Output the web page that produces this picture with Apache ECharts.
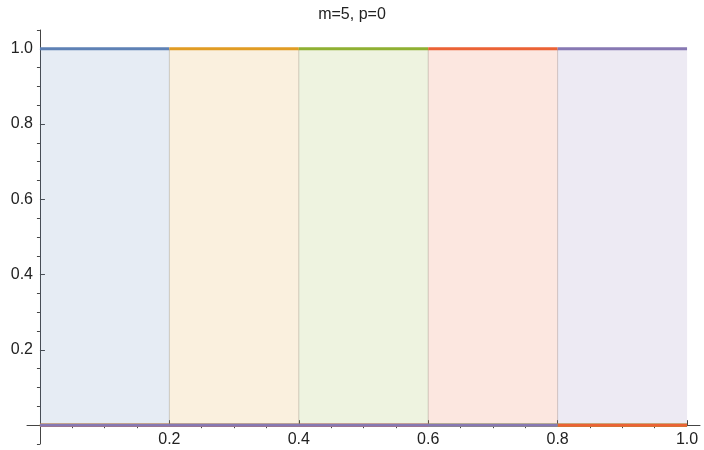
<!DOCTYPE html>
<html>
<head>
<meta charset="utf-8">
<script src="https://cdn.jsdelivr.net/npm/echarts@6/dist/echarts.min.js"></script>
<style>html,body{margin:0;padding:0;background:#fff}#c{width:704px;height:450px}</style>
</head>
<body>
<div id="c"></div>
<script>
// ---- data ----
const titleText = 'm=5, p=0';
const knots = [0, 0.2, 0.4, 0.6, 0.8, 1.0];
const basisNames = ['N0', 'N1', 'N2', 'N3', 'N4'];
const basisLevel = [1, 1, 1, 1, 1];
const xMajorTicks = [0.2, 0.4, 0.6, 0.8, 1.0];
const xMinorTicks = [0.05, 0.1, 0.15, 0.25, 0.3, 0.35, 0.45, 0.5, 0.55, 0.65, 0.7, 0.75, 0.85, 0.9, 0.95];
const yMajorTicks = [0.2, 0.4, 0.6, 0.8, 1.0];
const yMinorTicks = [-0.05, 0.05, 0.1, 0.15, 0.25, 0.3, 0.35, 0.45, 0.5, 0.55, 0.65, 0.7, 0.75, 0.85, 0.9, 0.95, 1.05];

const colors = ['#5E81B5', '#E19C24', '#8FB032', '#EB6235', '#8778B3'];
const fills = ['rgba(94,129,181,0.22)', 'rgba(225,156,36,0.22)', 'rgba(143,176,50,0.22)', 'rgba(235,98,53,0.22)', 'rgba(135,120,179,0.22)'];

const x0 = knots[0], x1 = knots[knots.length - 1];
function basisData(i) {
  const a = knots[i], b = knots[i + 1], v = basisLevel[i];
  const d = [];
  if (a > x0) { d.push([x0, 0], [a, 0], [a, '-']); }
  d.push([a, v], [b, v]);
  if (b < x1) { d.push([b, '-'], [b, 0], [x1, 0]); }
  return d;
}
const edgeData = [];
for (let k = 1; k < knots.length - 1; k++) {
  edgeData.push([knots[k], 0], [knots[k], 1], [knots[k], '-']);
}

const font = 'Liberation Sans, Arial, sans-serif';
const axisCol = '#444';
const series = [];
basisNames.forEach((n, i) => {
  series.push({
    name: n, type: 'line', data: basisData(i), showSymbol: false, symbol: 'none',
    connectNulls: false, animation: false,
    lineStyle: { color: colors[i], width: 3 },
    itemStyle: { color: colors[i] },
    areaStyle: { color: fills[i], origin: 0 },
    z: 2
  });
});
series.push({
  name: 'edges', type: 'line', data: edgeData, showSymbol: false, symbol: 'none',
  connectNulls: false, animation: false,
  lineStyle: { color: 'rgba(120,120,120,0.35)', width: 1 }, z: 1
});

const chart = echarts.init(document.getElementById('c'), null, { renderer: 'canvas' });
chart.setOption({
  animation: false,
  title: { text: titleText, left: 'center', top: 2, textStyle: { fontFamily: font, fontSize: 16, fontWeight: 'normal', color: '#222' } },
  grid: { left: 27, right: 4, top: 30, bottom: 6, containLabel: false, outerBoundsMode: 'none' },
  xAxis: [
    { type: 'value', min: -0.02, max: 1.02,
      axisLine: { show: true, onZero: true, lineStyle: { color: axisCol, width: 1 } },
      axisTick: { show: true, inside: true, length: 5, customValues: xMajorTicks, lineStyle: { color: axisCol } },
      axisLabel: { show: true, customValues: xMajorTicks, formatter: v => v.toFixed(1), margin: -12, fontFamily: font, fontSize: 16, color: '#222' },
      splitLine: { show: false } },
    { type: 'value', min: -0.02, max: 1.02,
      axisLine: { show: false, onZero: true },
      axisTick: { show: true, inside: true, length: 3, customValues: xMinorTicks, lineStyle: { color: axisCol } },
      axisLabel: { show: false }, splitLine: { show: false } }
  ],
  yAxis: [
    { type: 'value', min: -0.05, max: 1.05,
      axisLine: { show: true, onZero: true, lineStyle: { color: axisCol, width: 1 } },
      axisTick: { show: true, inside: true, length: 5, customValues: yMajorTicks, lineStyle: { color: axisCol } },
      axisLabel: { show: true, customValues: yMajorTicks, formatter: v => v.toFixed(1), margin: -6, fontFamily: font, fontSize: 16, color: '#222' },
      splitLine: { show: false } },
    { type: 'value', min: -0.05, max: 1.05,
      axisLine: { show: false, onZero: true },
      axisTick: { show: true, inside: true, length: 3, customValues: yMinorTicks, lineStyle: { color: axisCol } },
      axisLabel: { show: false }, splitLine: { show: false } }
  ],
  series: series
});
</script>
</body>
</html>
